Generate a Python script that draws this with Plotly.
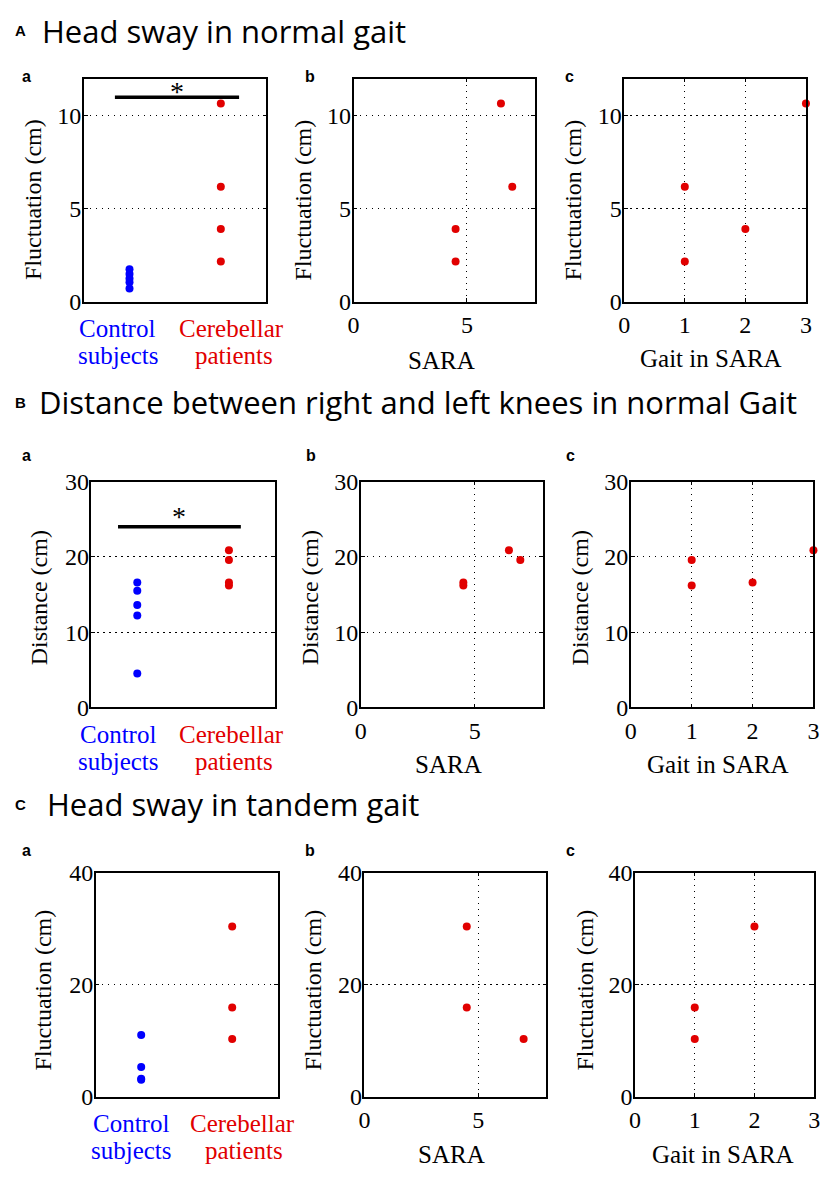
import plotly.graph_objects as go

W, H = 829, 1180

# ---------------- data ----------------
group_pos = [1, 2]
ctrl_A = [1.75, 1.5, 1.25, 1.05, 0.72]
pat_A = [10.66, 6.18, 3.91, 2.16]
sara_A = [6.5, 7.0, 4.5, 4.5]
gait_A = [3, 1, 2, 1]

ctrl_B = [16.6, 15.5, 13.6, 12.2, 4.5]
pat_B = [20.9, 19.6, 16.6, 16.2]
sara_B = [6.5, 7.0, 4.5, 4.5]
gait_B = [3, 1, 2, 1]

ctrl_C = [11.0, 5.3, 3.2, 3.0]
pat_C = [10.3, 30.4, 15.9]
sara_C = [7.0, 4.5, 4.5]
gait_C = [1, 2, 1]

sig_A = dict(x=[0.84, 2.2], y=[11, 11], star_y=11.45)
sig_B = dict(x=[0.79, 2.13], y=[24, 24], star_y=25.8)

row_titles = ["Head sway in normal gait",
              "Distance between right and left knees in normal Gait",
              "Head sway in tandem gait"]
row_letters = ["A", "B", "C"]
y_titles = ["Fluctuation (cm)", "Distance (cm)", "Fluctuation (cm)"]
y_ranges = [[0, 12], [0, 30], [0, 40]]
y_dticks = [5, 10, 20]

BLUE = "rgb(0,0,255)"
RED = "rgb(225,0,0)"

# ---------------- layout geometry (pixels) ----------------
rows_y = [(67, 295.3), (479.3, 710), (879, 1108)]
cols_x = [
    [(79, 264.3), (352.7, 536.7), (627.3, 811.7)],
    [(86.7, 272.7), (360, 545), (634, 819.3)],
    [(91, 275.7), (363.7, 548.3), (638.3, 820)],
]

def px_x(v):
    return v / W

def px_y(v):
    return 1 - v / H

fig = go.Figure()

axis_common = dict(
    showline=True, linecolor="black", linewidth=1.5, mirror="ticks",
    ticks="inside", ticklen=4, tickcolor="black", tickwidth=1,
    tickfont=dict(family="Liberation Serif", size=24, color="black"),
    gridcolor="black", gridwidth=1, griddash="1.5px,4.5px",
    zeroline=False, fixedrange=True,
)

rows_data = [
    (ctrl_A, pat_A, sara_A, gait_A),
    (ctrl_B, pat_B, sara_B, gait_B),
    (ctrl_C, pat_C, sara_C, gait_C),
]

layout = {}
for r in range(3):
    ctrl, pat, sara, gait = rows_data[r]
    for c in range(3):
        idx = r * 3 + c + 1
        xa = "x" if idx == 1 else f"x{idx}"
        ya = "y" if idx == 1 else f"y{idx}"
        xk = "xaxis" if idx == 1 else f"xaxis{idx}"
        yk = "yaxis" if idx == 1 else f"yaxis{idx}"
        x0, x1 = cols_x[r][c]
        y0, y1 = rows_y[r]
        xdom = [px_x(x0), px_x(x1)]
        ydom = [px_y(y1), px_y(y0)]
        yaxis = dict(axis_common, domain=ydom, range=y_ranges[r],
                     dtick=y_dticks[r], tick0=0, anchor=xa, showgrid=True,
                     ticklabelstandoff=-4)
        if c == 0:
            xaxis = dict(axis_common, domain=xdom, range=[0.5, 2.5],
                         showticklabels=False, ticks="", showgrid=False,
                         anchor=ya, mirror=True)
            fig.add_trace(go.Scatter(
                x=[group_pos[0]] * len(ctrl), y=ctrl, mode="markers",
                marker=dict(color=BLUE, size=8), xaxis=xa, yaxis=ya,
                cliponaxis=False, showlegend=False))
            fig.add_trace(go.Scatter(
                x=[group_pos[1]] * len(pat), y=pat, mode="markers",
                marker=dict(color=RED, size=8), xaxis=xa, yaxis=ya,
                cliponaxis=False, showlegend=False))
        elif c == 1:
            xaxis = dict(axis_common, domain=xdom, range=[0, 8], dtick=5,
                         tick0=0, anchor=ya, showgrid=True,
                         ticklabelstandoff=1)
            fig.add_trace(go.Scatter(
                x=sara, y=pat, mode="markers",
                marker=dict(color=RED, size=8), xaxis=xa, yaxis=ya,
                cliponaxis=False, showlegend=False))
        else:
            xaxis = dict(axis_common, domain=xdom, range=[0, 3], dtick=1,
                         tick0=0, anchor=ya, showgrid=True,
                         ticklabelstandoff=1)
            fig.add_trace(go.Scatter(
                x=gait, y=pat, mode="markers",
                marker=dict(color=RED, size=8), xaxis=xa, yaxis=ya,
                cliponaxis=False, showlegend=False))
        layout[xk] = xaxis
        layout[yk] = yaxis

# significance bars
for sig, xa, ya in [(sig_A, "x", "y"), (sig_B, "x4", "y4")]:
    fig.add_trace(go.Scatter(
        x=sig["x"], y=sig["y"], mode="lines",
        line=dict(color="black", width=3.5), xaxis=xa, yaxis=ya,
        cliponaxis=False, showlegend=False, hoverinfo="skip"))

annotations = []

def ann(text, x, y, size, family, color="black", xanchor="center",
        yanchor="middle", angle=0, bold=False):
    annotations.append(dict(
        text=f"<b>{text}</b>" if bold else text,
        x=px_x(x), y=px_y(y), xref="paper", yref="paper",
        xanchor=xanchor, yanchor=yanchor, textangle=angle,
        showarrow=False, font=dict(size=size, family=family, color=color)))

# row headings
title_pos = [(35, 18), (31.3, 398), (39.7, 809)]
for r in range(3):
    ann(row_letters[r], 14.5, title_pos[r][1], 15, "Liberation Sans", bold=True)
    ann(row_titles[r], title_pos[r][0], title_pos[r][1], 31, "Open Sans",
        xanchor="left")

# sub panel letters
sub_pos = [
    [(20.7, 65), (308, 65), (572, 65)],
    [(21, 452), (309, 452), (572.7, 452)],
    [(21, 856), (308, 856), (572.7, 856)],
]
for r in range(3):
    for c, lt in enumerate(["a", "b", "c"]):
        ann(lt, sub_pos[r][c][0], sub_pos[r][c][1], 16, "Liberation Sans",
            bold=True)

# y-axis titles
ytitle_pos = [
    [(27.5, 191), (301, 191), (575, 191)],
    [(33, 598), (308, 598), (582, 598)],
    [(38, 999), (312, 999), (587, 999)],
]
for r in range(3):
    for c in range(3):
        ann(y_titles[r], ytitle_pos[r][c][0], ytitle_pos[r][c][1], 24,
            "Liberation Serif", angle=-90)

# x-axis titles
xtitle_pos = [
    [(442, 355), (715.8, 353)],
    [(449, 768), (722.5, 768)],
    [(452.5, 1167.5), (727.5, 1167)],
]
for r in range(3):
    ann("SARA", xtitle_pos[r][0][0], xtitle_pos[r][0][1], 25, "Liberation Serif")
    ann("Gait in SARA", xtitle_pos[r][1][0], xtitle_pos[r][1][1], 25,
        "Liberation Serif")

# group labels
grp_pos = [
    [(113, 322.5), (114, 350), (228.8, 322.5), (231.7, 350)],
    [(113.3, 738), (114, 765), (228.8, 738), (231, 765)],
    [(126.7, 1136), (127, 1163), (240, 1136), (242, 1163)],
]
grp_text = [("Control", BLUE), ("subjects", BLUE),
            ("Cerebellar", RED), ("patients", RED)]
for r in range(3):
    for (t, col), (x, y) in zip(grp_text, grp_pos[r]):
        ann(t, x, y, 25, "Liberation Serif", color=col)

# asterisks
for sig, xa, ya in [(sig_A, "x", "y"), (sig_B, "x4", "y4")]:
    annotations.append(dict(
        text="*", x=sum(sig["x"]) / 2, y=sig["star_y"], xref=xa, yref=ya,
        showarrow=False, yanchor="middle", yshift=-3,
        font=dict(size=28, family="Liberation Serif", color="black")))

fig.update_layout(
    width=W, height=H, margin=dict(l=0, r=0, t=0, b=0),
    paper_bgcolor="white", plot_bgcolor="white", showlegend=False,
    annotations=annotations, **layout)

fig.write_html(
    "out.html",
    config={"displayModeBar": False},
    post_script="document.body.style.margin='0px';"
                "document.body.style.overflow='hidden';")
